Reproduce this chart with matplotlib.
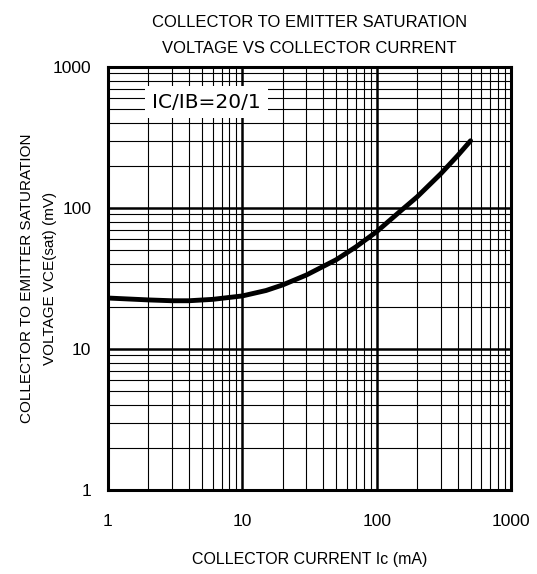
import numpy as np
import matplotlib.pyplot as plt
from matplotlib.ticker import LogLocator, FixedLocator, NullFormatter

plt.rcParams['font.family'] = ['Liberation Sans', 'DejaVu Sans']

# --- data ---
ic_ma = [1, 2, 3, 4, 6, 10, 15, 20, 30, 50, 70, 100, 150, 200, 300, 400, 500]
vce_mv = [23, 22.3, 22.0, 22.0, 22.5, 23.8, 26, 28.5, 33.5, 43, 53, 68, 95, 120, 175, 235, 300]

x_ticks = [1, 10, 100, 1000]
x_ticklabels = ['1', '10', '100', '1000']
y_ticks = [1, 10, 100, 1000]
y_ticklabels = ['1', '10', '100', '1000']

fig = plt.figure(figsize=(5.37, 5.74), dpi=100)
ax = fig.add_axes([0.2011, 0.1463, 0.7505, 0.7369])

ax.set_xscale('log')
ax.set_yscale('log')
ax.set_xlim(1, 1000)
ax.set_ylim(1, 1000)

ax.xaxis.set_major_locator(FixedLocator(x_ticks))
ax.yaxis.set_major_locator(FixedLocator(y_ticks))
ax.xaxis.set_minor_locator(LogLocator(base=10, subs=np.arange(2, 10)))
ax.yaxis.set_minor_locator(LogLocator(base=10, subs=np.arange(2, 10)))
ax.xaxis.set_minor_formatter(NullFormatter())
ax.yaxis.set_minor_formatter(NullFormatter())
ax.set_xticklabels(x_ticklabels)
ax.set_yticklabels(y_ticklabels)

ax.grid(True, which='major', color='black', linewidth=1.8)
ax.grid(True, which='minor', color='black', linewidth=0.8)
ax.tick_params(which='both', length=0)
ax.tick_params(axis='x', labelsize=12.5, pad=17)
ax.tick_params(axis='y', labelsize=12.5, pad=12)
for s in ax.spines.values():
    s.set_linewidth(2.2)

ax.plot(ic_ma, vce_mv, color='black', linewidth=3.5, solid_capstyle='round', zorder=5)

ax.text(0.11, 0.917, 'IC/IB=20/1', transform=ax.transAxes, fontsize=14.5,
        family=['DejaVu Sans'], ha='left', va='center',
        bbox=dict(facecolor='white', edgecolor='none', pad=5), zorder=6)

ax.set_title('COLLECTOR TO EMITTER SATURATION\nVOLTAGE VS COLLECTOR CURRENT',
             fontsize=12, pad=10, linespacing=1.95)
ax.set_xlabel('COLLECTOR CURRENT Ic (mA)', fontsize=11.5, labelpad=17)
ax.set_ylabel('COLLECTOR TO EMITTER SATURATION\nVOLTAGE VCE(sat) (mV)', fontsize=11,
              labelpad=-3, linespacing=1.85)

fig.savefig('out.png', dpi=100)
